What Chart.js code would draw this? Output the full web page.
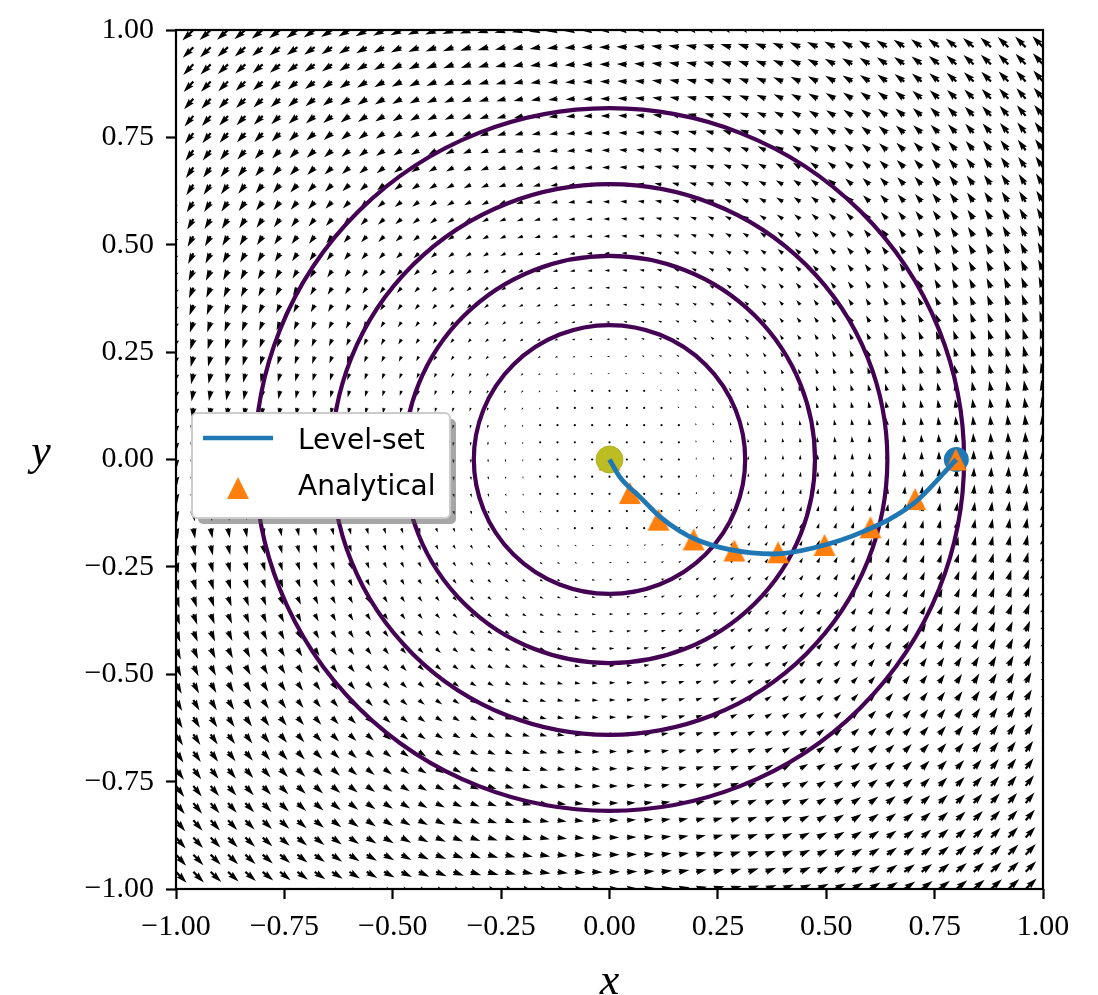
<!DOCTYPE html>
<html>
<head>
<meta charset="utf-8">
<script src="https://cdn.jsdelivr.net/npm/chart.js@4.4.0/dist/chart.umd.min.js"></script>
<style>
html,body{margin:0;padding:0;background:#ffffff;}
#wrap{width:1098px;height:995px;}
</style>
</head>
<body>
<div id="wrap"><canvas id="c" width="1098" height="995"></canvas></div>
<script>
// ---------------- data ----------------
const xTicks = [-1.00, -0.75, -0.50, -0.25, 0.00, 0.25, 0.50, 0.75, 1.00];
const yTicks = [-1.00, -0.75, -0.50, -0.25, 0.00, 0.25, 0.50, 0.75, 1.00];

// Level-set interface trajectory (blue line)
const levelSetX = [0.000, 0.024, 0.070, 0.116, 0.163, 0.201, 0.278, 0.378, 0.470, 0.585, 0.701, 0.800];
const levelSetY = [0.000, -0.041, -0.087, -0.133, -0.167, -0.187, -0.210, -0.220, -0.206, -0.168, -0.103, 0.000];

// Analytical solution (orange triangles)
const analyticalX = [0.000, 0.047, 0.113, 0.194, 0.288, 0.389, 0.496, 0.602, 0.705, 0.799];
const analyticalY = [0.000, -0.078, -0.140, -0.186, -0.212, -0.216, -0.199, -0.158, -0.092, 0.000];

// start / end markers
const startPointX = [0.0];
const startPointY = [0.0];
const endPointX = [0.8];
const endPointY = [0.0];

// contour levels (circles centred at origin), radii
const contourRadii = [0.313, 0.474, 0.641, 0.818];

// quiver grid coordinates (both axes)
const quiverGrid = [-1.00, -0.96, -0.92, -0.88, -0.84, -0.80, -0.76, -0.72, -0.68, -0.64,
  -0.60, -0.56, -0.52, -0.48, -0.44, -0.40, -0.36, -0.32, -0.28, -0.24,
  -0.20, -0.16, -0.12, -0.08, -0.04, 0.00, 0.04, 0.08, 0.12, 0.16,
  0.20, 0.24, 0.28, 0.32, 0.36, 0.40, 0.44, 0.48, 0.52, 0.56,
  0.60, 0.64, 0.68, 0.72, 0.76, 0.80, 0.84, 0.88, 0.92, 0.96, 1.00];
// velocity field: rigid counter-clockwise rotation u = -w*y, v = w*x
const angularRate = 1.0;

// ---------------- styles ----------------
const ARROW_W = 2.2;      // shaft width in px
const ARROW_K = 11;       // px per unit speed
const CONTOUR_COLOR = '#440154';
const SERIF = '"Liberation Serif", "Times New Roman", serif';
const TICK_FONT = {family: SERIF, size: 30};
const TITLE_FONT = {family: SERIF, size: 44, style: 'italic', lineHeight: 0.55};

function fmtTick(v) {
  const s = Math.abs(v).toFixed(2);
  return (v < -1e-9 ? '\u2212' : '') + s;
}

// triangle marker image
function makeTriangle(size, color) {
  const c = document.createElement('canvas');
  c.width = size + 2; c.height = size + 2;
  const g = c.getContext('2d');
  g.fillStyle = color;
  g.beginPath();
  g.moveTo(1 + size / 2, 1);
  g.lineTo(1 + size, 1 + size);
  g.lineTo(1, 1 + size);
  g.closePath();
  g.fill();
  return c;
}
const triImg = makeTriangle(22, '#ff7f0e');

// matplotlib-like quiver arrow in width units
function arrowShape(Lw) {
  const hl = 5, hal = 4.5, hw = 3, minsh = 5;
  let X = [0, Lw - hal, Lw - hl, Lw, Lw - hl, Lw - hal, 0];
  let Y = [0.5, 0.5, hw / 2, 0, -hw / 2, -0.5, -0.5];
  if (Lw < minsh) {
    const s = Lw / minsh;
    X = [0, minsh - hal, minsh - hl, minsh, minsh - hl, minsh - hal, 0].map(v => v * s);
    Y = Y.map(v => v * s);
  }
  return [X, Y];
}

const backgroundPlugin = {
  id: 'fieldAndContours',
  beforeDatasetsDraw(chart) {
    const {ctx, chartArea: a, scales: {x, y}} = chart;
    ctx.save();
    ctx.beginPath();
    ctx.rect(a.left, a.top, a.right - a.left, a.bottom - a.top);
    ctx.clip();
    // quiver
    ctx.fillStyle = '#000';
    for (const gx of quiverGrid) {
      for (const gy of quiverGrid) {
        const u = -angularRate * gy, v = angularRate * gx;
        const px = x.getPixelForValue(gx), py = y.getPixelForValue(gy);
        const mag = Math.hypot(u, v);
        const Lw = mag * ARROW_K / ARROW_W;
        if (Lw < 1) {
          ctx.beginPath();
          ctx.arc(px, py, ARROW_W * 0.5, 0, Math.PI * 2);
          ctx.fill();
          continue;
        }
        const ang = Math.atan2(-v, u);
        const c = Math.cos(ang), s = Math.sin(ang);
        const [X, Y] = arrowShape(Lw);
        ctx.beginPath();
        for (let i = 0; i < X.length; i++) {
          const qx = px + ARROW_W * (X[i] * c - Y[i] * s);
          const qy = py + ARROW_W * (X[i] * s + Y[i] * c);
          if (i === 0) ctx.moveTo(qx, qy); else ctx.lineTo(qx, qy);
        }
        ctx.closePath();
        ctx.fill();
      }
    }
    // contours
    ctx.strokeStyle = CONTOUR_COLOR;
    ctx.lineWidth = 4.2;
    const cx = x.getPixelForValue(0), cy = y.getPixelForValue(0);
    for (const r of contourRadii) {
      const rx = x.getPixelForValue(r) - cx;
      const ry = cy - y.getPixelForValue(r);
      ctx.beginPath();
      ctx.ellipse(cx, cy, rx, ry, 0, 0, Math.PI * 2);
      ctx.stroke();
    }
    ctx.restore();
  },
  afterDatasetsDraw(chart) {
    const {ctx, chartArea: a} = chart;
    ctx.save();
    // legend
    const lx = a.left + 16, ly = a.top + 383, lw = 258, lh = 105;
    ctx.fillStyle = 'rgba(77,77,77,0.5)';
    ctx.beginPath();
    ctx.roundRect(lx + 6, ly + 6, lw, lh, 5);
    ctx.fill();
    ctx.fillStyle = '#ffffff';
    ctx.strokeStyle = '#cccccc';
    ctx.lineWidth = 2;
    ctx.beginPath();
    ctx.roundRect(lx, ly, lw, lh, 5);
    ctx.fill();
    ctx.stroke();
    ctx.strokeStyle = '#1f77b4';
    ctx.lineWidth = 4.5;
    ctx.beginPath();
    ctx.moveTo(lx + 11, ly + 25);
    ctx.lineTo(lx + 81, ly + 25);
    ctx.stroke();
    ctx.drawImage(triImg, lx + 46 - triImg.width / 2, ly + 75 - triImg.height / 2);
    ctx.fillStyle = '#000';
    ctx.font = '28px "DejaVu Sans", sans-serif';
    ctx.textBaseline = 'alphabetic';
    ctx.textAlign = 'left';
    ctx.fillText('Level-set', lx + 106, ly + 36);
    ctx.fillText('Analytical', lx + 106, ly + 82);
    ctx.restore();
  },
  afterDraw(chart) {
    const {ctx, chartArea: a} = chart;
    ctx.save();
    ctx.strokeStyle = '#000';
    ctx.lineWidth = 2.2;
    ctx.strokeRect(a.left, a.top, a.right - a.left, a.bottom - a.top);
    // y axis label (upright, like the reference)
    ctx.fillStyle = '#000';
    ctx.font = 'italic 44px ' + SERIF;
    ctx.textAlign = 'center';
    ctx.textBaseline = 'alphabetic';
    ctx.fillText('y', 41, (a.top + a.bottom) / 2 + 5);
    ctx.restore();
  }
};

const pts = (xs, ys) => xs.map((v, i) => ({x: v, y: ys[i]}));

new Chart(document.getElementById('c'), {
  type: 'scatter',
  data: {
    datasets: [
      {
        label: 'Level-set',
        data: pts(levelSetX, levelSetY),
        showLine: true,
        borderColor: '#1f77b4',
        borderWidth: 4.8,
        pointRadius: 0,
        cubicInterpolationMode: 'monotone',
        fill: false,
        order: 0
      },
      {
        label: 'start',
        data: pts(startPointX, startPointY),
        pointRadius: 13.5,
        backgroundColor: '#bcbd22',
        borderColor: '#a9aa1e',
        borderWidth: 0.8,
        order: 1
      },
      {
        label: 'Analytical',
        data: pts(analyticalX, analyticalY),
        pointStyle: triImg,
        order: 2
      },
      {
        label: 'end',
        data: pts(endPointX, endPointY),
        pointRadius: 12.5,
        backgroundColor: '#1f77b4',
        borderColor: '#1f77b4',
        borderWidth: 0,
        order: 3
      }
    ]
  },
  options: {
    responsive: false,
    maintainAspectRatio: false,
    animation: false,
    devicePixelRatio: 1,
    layout: {padding: {left: 0, right: 55, top: 22, bottom: 0}},
    plugins: {legend: {display: false}, tooltip: {enabled: false}},
    scales: {
      x: {
        type: 'linear', min: -1, max: 1,
        afterBuildTicks: s => { s.ticks = xTicks.map(v => ({value: v})); },
        afterFit: s => { s.height = 106; },
        grid: {display: true, drawOnChartArea: false, drawTicks: true, tickLength: 10, tickWidth: 2.2, tickColor: '#000'},
        border: {display: false},
        ticks: {color: '#000', font: TICK_FONT, padding: 10, maxRotation: 0, autoSkip: false, callback: v => fmtTick(v)},
        title: {display: true, text: 'x', color: '#000', font: TITLE_FONT, padding: {top: 0, bottom: 0}}
      },
      y: {
        type: 'linear', min: -1, max: 1,
        afterBuildTicks: s => { s.ticks = yTicks.map(v => ({value: v})); },
        afterFit: s => { s.width = 176; },
        grid: {display: true, drawOnChartArea: false, drawTicks: true, tickLength: 10, tickWidth: 2.2, tickColor: '#000'},
        border: {display: false},
        ticks: {color: '#000', font: TICK_FONT, padding: 12, autoSkip: false, callback: v => fmtTick(v)},
        title: {display: false}
      }
    }
  },
  plugins: [backgroundPlugin]
});
</script>
</body>
</html>
